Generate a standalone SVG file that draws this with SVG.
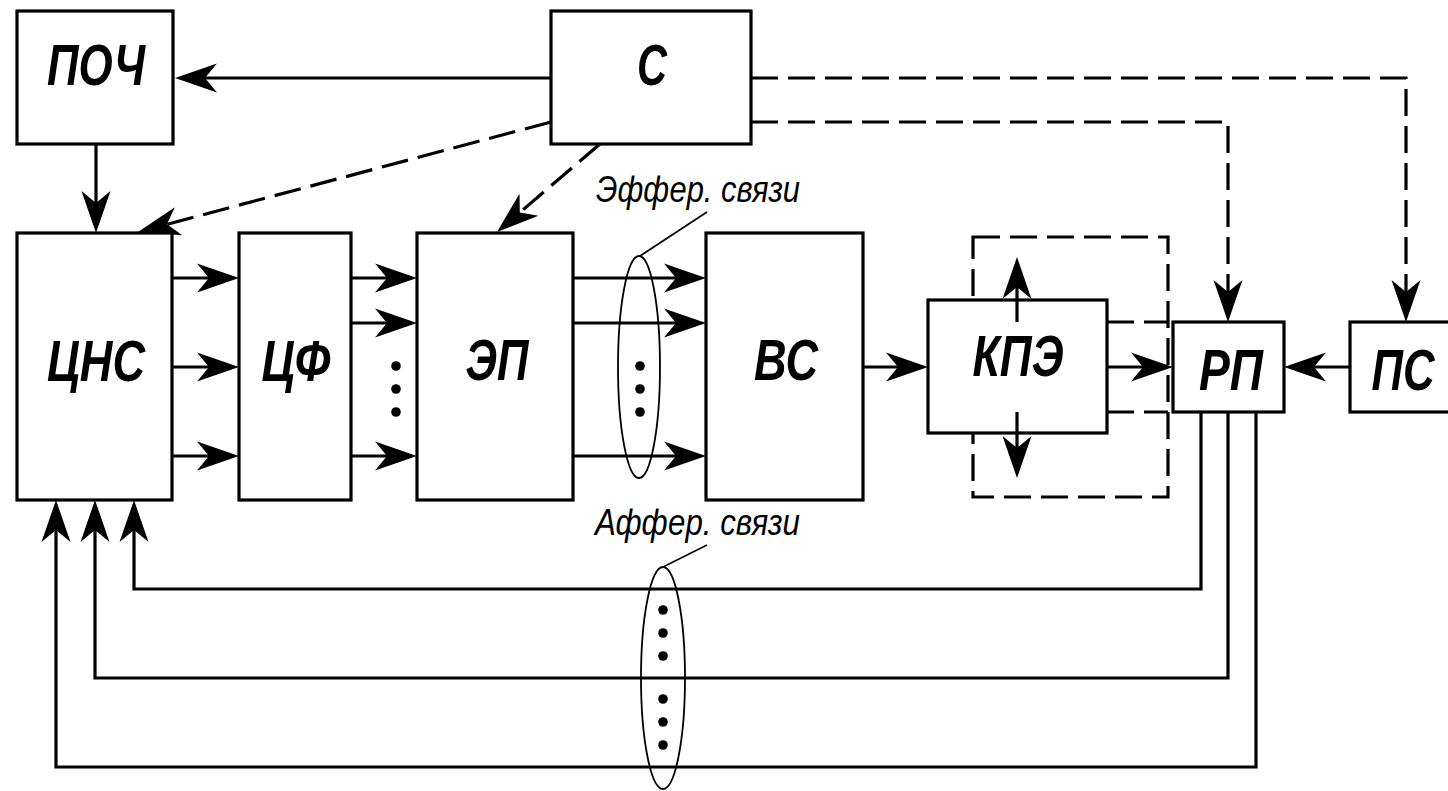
<svg xmlns="http://www.w3.org/2000/svg" width="1448" height="791" viewBox="0 0 1448 791">
<style>
  .box { fill: #fff; stroke: #000; stroke-width: 3.2; }
  .lbl { font-family: "Liberation Sans", Arial, sans-serif; font-weight: bold; font-style: italic; font-size: 57px; fill: #000; text-anchor: middle; }
  .note { font-family: "Liberation Sans", Arial, sans-serif; font-style: italic; font-size: 36px; fill: #000; }
  .ln { fill: none; stroke: #000; stroke-width: 3.2; }
  .dash { fill: none; stroke: #000; stroke-width: 3.2; stroke-dasharray: 27 10; }
  .thin { fill: none; stroke: #000; stroke-width: 1.8; }
  .dot { fill: #000; }
</style>
<defs>
  <marker id="ah" viewBox="-24 -16 46 32" markerWidth="46" markerHeight="32" refX="0" refY="0" orient="auto" markerUnits="userSpaceOnUse">
    <path d="M20,0 L-22,-14.5 L-10,0 L-22,14.5 Z" fill="#000" stroke="none"/>
  </marker>
</defs>

<rect x="973" y="237" width="195" height="260" class="dash"/>

<g id="connectors">
  <line x1="551" y1="78" x2="195" y2="78" class="ln" marker-end="url(#ah)"/>
  <line x1="96" y1="144" x2="96" y2="213" class="ln" marker-end="url(#ah)"/>
  <line x1="172" y1="278" x2="219" y2="278" class="ln" marker-end="url(#ah)"/>
  <line x1="172" y1="367" x2="219" y2="367" class="ln" marker-end="url(#ah)"/>
  <line x1="172" y1="456" x2="219" y2="456" class="ln" marker-end="url(#ah)"/>
  <line x1="351" y1="278" x2="397" y2="278" class="ln" marker-end="url(#ah)"/>
  <line x1="351" y1="323" x2="397" y2="323" class="ln" marker-end="url(#ah)"/>
  <line x1="351" y1="456" x2="397" y2="456" class="ln" marker-end="url(#ah)"/>
  <line x1="573" y1="278" x2="686" y2="278" class="ln" marker-end="url(#ah)"/>
  <line x1="573" y1="323" x2="686" y2="323" class="ln" marker-end="url(#ah)"/>
  <line x1="573" y1="456" x2="686" y2="456" class="ln" marker-end="url(#ah)"/>
  <line x1="863" y1="367" x2="908" y2="367" class="ln" marker-end="url(#ah)"/>
  <line x1="1107" y1="367" x2="1153" y2="367" class="ln" marker-end="url(#ah)"/>
  <line x1="1350" y1="367" x2="1304" y2="367" class="ln" marker-end="url(#ah)"/>
  <polyline points="1201,412 1201,589 134,589 134,520" class="ln" marker-end="url(#ah)"/>
  <polyline points="1228,412 1228,678 95,678 95,520" class="ln" marker-end="url(#ah)"/>
  <polyline points="1256,412 1256,767 56,767 56,520" class="ln" marker-end="url(#ah)"/>
  <line x1="551" y1="122" x2="157.3" y2="226.9" class="dash" marker-end="url(#ah)"/>
  <line x1="600" y1="144" x2="512.2" y2="219" class="dash" marker-end="url(#ah)"/>
  <polyline points="751,122 1228,122 1228,302" class="dash" marker-end="url(#ah)"/>
  <polyline points="751,78 1406,78 1406,302" class="dash" marker-end="url(#ah)"/>
  <line x1="1107" y1="322" x2="1168" y2="322" class="dash"/>
  <line x1="1107" y1="412" x2="1168" y2="412" class="dash"/>
</g>

<g id="n-poch"><rect x="17" y="11" width="156" height="133" class="box"/><text x="96" y="85" class="lbl" textLength="98" lengthAdjust="spacingAndGlyphs">ПОЧ</text></g>
<g id="n-s"><rect x="551" y="11" width="200" height="133" class="box"/><text x="652" y="85" class="lbl" textLength="30" lengthAdjust="spacingAndGlyphs">С</text></g>
<g id="n-cns"><rect x="17" y="233" width="155" height="267" class="box"/><text x="96" y="381" class="lbl" textLength="98" lengthAdjust="spacingAndGlyphs">ЦНС</text></g>
<g id="n-cf"><rect x="239" y="233" width="112" height="267" class="box"/><text x="296" y="381" class="lbl" textLength="69" lengthAdjust="spacingAndGlyphs">ЦФ</text></g>
<g id="n-ep"><rect x="417" y="233" width="156" height="267" class="box"/><text x="497" y="380" class="lbl" textLength="63" lengthAdjust="spacingAndGlyphs">ЭП</text></g>
<g id="n-vs"><rect x="706" y="233" width="157" height="267" class="box"/><text x="786" y="380" class="lbl" textLength="64" lengthAdjust="spacingAndGlyphs">ВС</text></g>
<g id="n-kpe"><rect x="928" y="300" width="179" height="133" class="box"/><text x="1018" y="376" class="lbl" textLength="91" lengthAdjust="spacingAndGlyphs">КПЭ</text>
  <line x1="1017" y1="322" x2="1017" y2="277" class="ln" marker-end="url(#ah)"/>
  <line x1="1017" y1="412" x2="1017" y2="458" class="ln" marker-end="url(#ah)"/>
</g>
<g id="n-rp"><rect x="1173" y="322" width="111" height="90" class="box"/><text x="1231" y="390" class="lbl" textLength="64" lengthAdjust="spacingAndGlyphs">РП</text></g>
<g id="n-ps"><rect x="1350" y="322" width="110" height="90" class="box"/><text x="1403" y="390" class="lbl" textLength="63" lengthAdjust="spacingAndGlyphs">ПС</text></g>

<g id="dots">
  <circle cx="396" cy="366" r="4.8" class="dot"/><circle cx="396" cy="389" r="4.8" class="dot"/><circle cx="396" cy="412" r="4.8" class="dot"/>
  <circle cx="640" cy="366" r="4.8" class="dot"/><circle cx="640" cy="389" r="4.8" class="dot"/><circle cx="640" cy="412" r="4.8" class="dot"/>
  <circle cx="663" cy="610" r="4.8" class="dot"/><circle cx="663" cy="633" r="4.8" class="dot"/><circle cx="663" cy="656" r="4.8" class="dot"/>
  <circle cx="663" cy="699" r="4.8" class="dot"/><circle cx="663" cy="722" r="4.8" class="dot"/><circle cx="663" cy="745" r="4.8" class="dot"/>
</g>

<g id="eff">
  <ellipse cx="639" cy="367" rx="21" ry="111" class="thin"/>
  <line x1="640" y1="256" x2="707" y2="212" class="thin"/>
  <text x="596" y="202" class="note" textLength="204" lengthAdjust="spacingAndGlyphs">Эффер. связи</text>
</g>
<g id="aff">
  <ellipse cx="663" cy="678" rx="22" ry="111" class="thin"/>
  <line x1="663" y1="567" x2="707" y2="545" class="thin"/>
  <text x="595" y="535" class="note" textLength="205" lengthAdjust="spacingAndGlyphs">Аффер. связи</text>
</g>
</svg>
